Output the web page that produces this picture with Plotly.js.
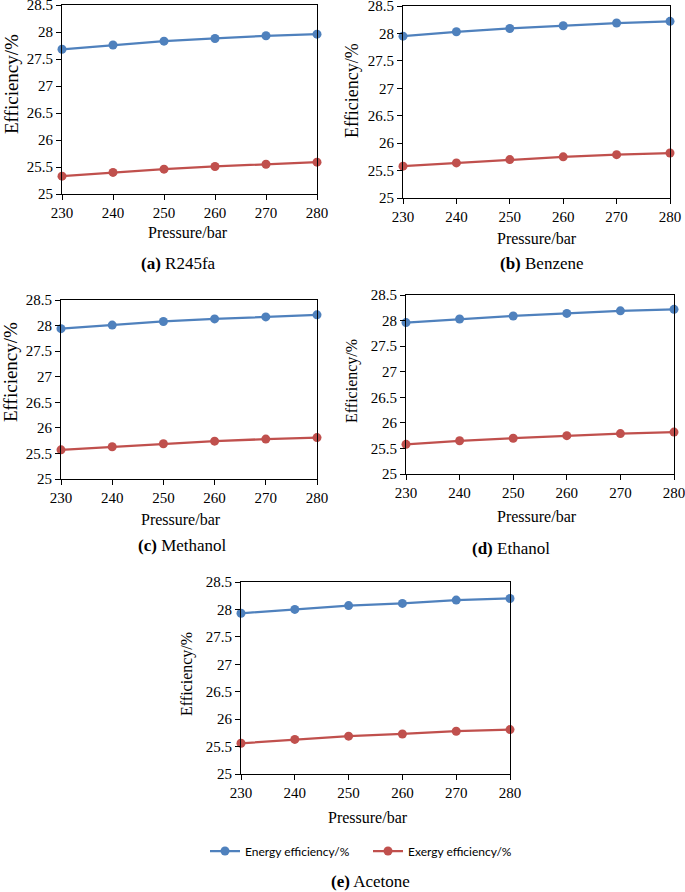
<!DOCTYPE html>
<html>
<head>
<meta charset="utf-8">
<script src="https://cdn.plot.ly/plotly-3.0.1.min.js"></script>
<style>html,body{margin:0;padding:0;background:#fff;}#chart{width:685px;height:892px;}</style>
</head>
<body>
<div id="chart"></div>
<script>
var pressure = [230, 240, 250, 260, 270, 280];
var energyR245fa = [27.68, 27.76, 27.83, 27.88, 27.93, 27.96];
var exergyR245fa = [25.33, 25.40, 25.46, 25.51, 25.55, 25.59];
var energyBenzene = [27.95, 28.03, 28.09, 28.14, 28.19, 28.22];
var exergyBenzene = [25.58, 25.64, 25.70, 25.75, 25.79, 25.82];
var energyMethanol = [27.94, 28.01, 28.08, 28.13, 28.17, 28.21];
var exergyMethanol = [25.57, 25.63, 25.69, 25.74, 25.78, 25.81];
var energyEthanol = [27.96, 28.03, 28.09, 28.14, 28.19, 28.22];
var exergyEthanol = [25.58, 25.65, 25.70, 25.75, 25.79, 25.82];
var energyAcetone = [27.93, 28.00, 28.07, 28.11, 28.17, 28.20];
var exergyAcetone = [25.56, 25.63, 25.69, 25.73, 25.78, 25.81];
var yTicks = [25, 25.5, 26, 26.5, 27, 27.5, 28, 28.5];
var yTickText = ["25", "25.5", "26", "26.5", "27", "27.5", "28", "28.5"];
var seriesNames = ["Energy efficiency/%", "Exergy efficiency/%"];
var panelLabels = ["(a)", "(b)", "(c)", "(d)", "(e)"];
var fluids = ["R245fa", "Benzene", "Methanol", "Ethanol", "Acetone"];
var xTitle = "Pressure/bar";
var yTitle = "Efficiency/%";

var W = 685, H = 892;
var blue = "#4F81BD", red = "#C0504D";
var serif = "Liberation Serif";

var energy = [energyR245fa, energyBenzene, energyMethanol, energyEthanol, energyAcetone];
var exergy = [exergyR245fa, exergyBenzene, exergyMethanol, exergyEthanol, exergyAcetone];

// pixel boxes [left, right, top, bottom]
var boxes = [
  [62, 317, 5, 194],
  [403, 670, 6, 198],
  [61, 317, 300, 479],
  [406, 674, 295, 474],
  [241, 510, 582, 774]
];
var xTitlePos = [[188, 233], [537, 238], [181, 519], [537, 516], [368, 817]];
var yTitlePos = [[11, 84, 19], [352, 91, 18], [10, 372, 19], [352, 381, 16], [187, 674, 16]];
var capPos = [[178, 263], [542, 263], [183, 545], [511, 548], [370, 881]];

var traces = [];
var layout = {
  width: W, height: H,
  margin: {l: 0, r: 0, t: 0, b: 0},
  paper_bgcolor: "#fff", plot_bgcolor: "#fff",
  showlegend: true,
  legend: {
    orientation: "h", x: 205 / W, xanchor: "left", y: 1 - 851 / H, yanchor: "middle",
    font: {family: "Lato", size: 12, color: "#000"},
    entrywidth: 118, entrywidthmode: "pixels", bgcolor: "rgba(0,0,0,0)"
  },
  annotations: []
};

function py(v) { return 1 - v / H; }

for (var i = 0; i < 5; i++) {
  var suf = i === 0 ? "" : String(i + 1);
  var b = boxes[i];
  layout["xaxis" + suf] = {
    domain: [b[0] / W, b[1] / W], anchor: "y" + suf,
    range: [230, 280], tickmode: "array", tickvals: pressure, ticktext: pressure.map(String),
    showline: true, mirror: true, linecolor: "#000", linewidth: 1,
    ticks: "outside", ticklen: 5, tickcolor: "#000", showgrid: false, zeroline: false,
    ticklabeloverflow: "allow",
    tickfont: {family: serif, size: 15, color: "#000"}
  };
  layout["yaxis" + suf] = {
    domain: [py(b[3]), py(b[2])], anchor: "x" + suf,
    range: [25, 28.5], tickmode: "array", tickvals: yTicks, ticktext: yTickText,
    showline: true, mirror: true, linecolor: "#000", linewidth: 1,
    ticks: "outside", ticklen: 5, tickcolor: "#000", showgrid: false, zeroline: false,
    ticklabeloverflow: "allow",
    tickfont: {family: serif, size: 15, color: "#000"}
  };
  var series = [energy[i], exergy[i]];
  var cols = [blue, red];
  for (var s = 0; s < 2; s++) {
    traces.push({
      x: pressure, y: series[s], xaxis: "x" + suf, yaxis: "y" + suf,
      type: "scatter", mode: "lines+markers", name: seriesNames[s],
      line: {color: cols[s], width: 2.25},
      marker: {color: cols[s], size: 9},
      cliponaxis: false, showlegend: i === 4
    });
  }
  layout.annotations.push({
    xref: "paper", yref: "paper", x: xTitlePos[i][0] / W, y: py(xTitlePos[i][1]),
    xanchor: "center", yanchor: "middle", showarrow: false, text: xTitle,
    font: {family: serif, size: 16, color: "#000"}
  });
  layout.annotations.push({
    xref: "paper", yref: "paper", x: yTitlePos[i][0] / W, y: py(yTitlePos[i][1]),
    xanchor: "center", yanchor: "middle", showarrow: false, text: yTitle, textangle: -90,
    font: {family: serif, size: yTitlePos[i][2], color: "#000"}
  });
  layout.annotations.push({
    xref: "paper", yref: "paper", x: capPos[i][0] / W, y: py(capPos[i][1]),
    xanchor: "center", yanchor: "middle", showarrow: false,
    text: "<b>" + panelLabels[i] + "</b> " + fluids[i],
    font: {family: serif, size: 17, color: "#000"}
  });
}

Plotly.newPlot("chart", traces, layout, {displayModeBar: false, staticPlot: true});
</script>
</body>
</html>
